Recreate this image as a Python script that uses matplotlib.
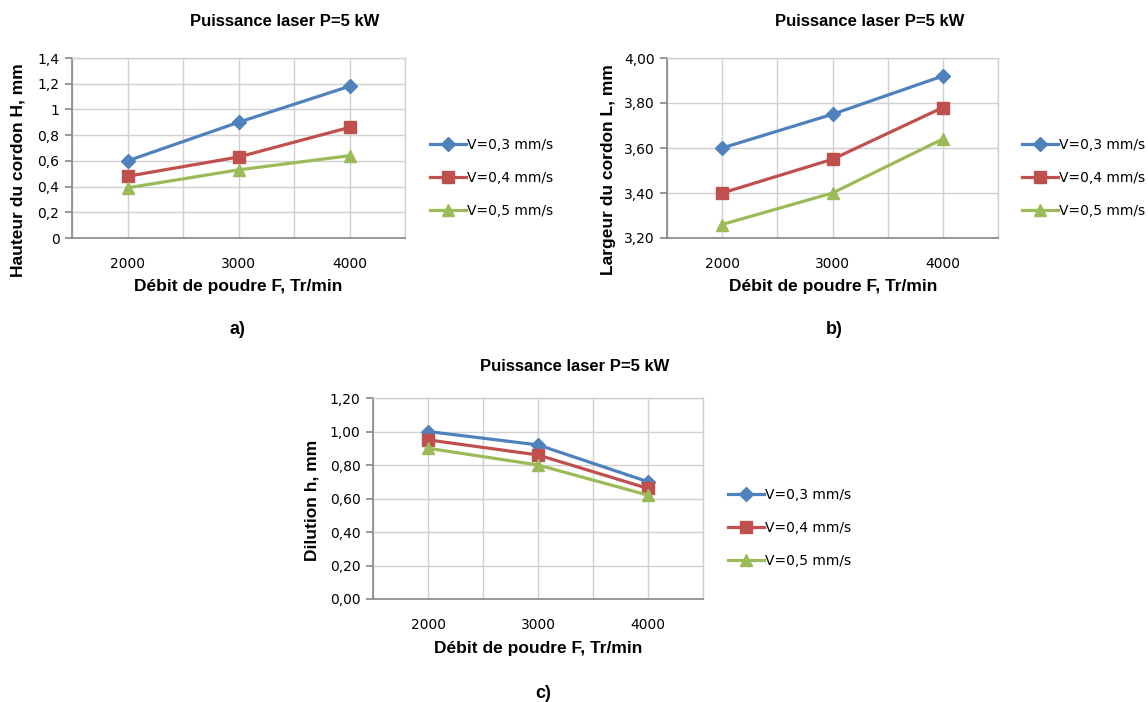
import matplotlib
matplotlib.use("Agg")
import matplotlib.pyplot as plt
from matplotlib.ticker import FixedLocator, FuncFormatter

# Data
debit = [2000, 3000, 4000]
series_labels = ["V=0,3 mm/s", "V=0,4 mm/s", "V=0,5 mm/s"]

hauteur_v03 = [0.60, 0.90, 1.18]
hauteur_v04 = [0.48, 0.63, 0.86]
hauteur_v05 = [0.39, 0.53, 0.64]

largeur_v03 = [3.60, 3.75, 3.92]
largeur_v04 = [3.40, 3.55, 3.78]
largeur_v05 = [3.26, 3.40, 3.64]

dilution_v03 = [1.00, 0.92, 0.70]
dilution_v04 = [0.95, 0.86, 0.66]
dilution_v05 = [0.90, 0.80, 0.62]

title_text = "Puissance laser P=5 kW"
xlabel_text = "Débit de poudre F, Tr/min"

W, H = 1148, 702
fig = plt.figure(figsize=(W / 100, H / 100), dpi=100)

colors = ["#4F81BD", "#C0504D", "#9BBB59"]
markers = ["D", "s", "^"]
msizes = [7, 9, 9]
grid_col = "#D0D0D0"
axis_col = "#868686"
text_col = "#000000"
bold_font = "Liberation Sans"


def fx(x):
    return x / W


def fy(y):
    return 1 - y / H


def comma_fmt(decimals):
    def f(v, pos):
        if decimals is None:
            s = ("%.1f" % v).rstrip("0").rstrip(".")
        else:
            s = "%.*f" % (decimals, v)
        return s.replace(".", ",")
    return f


def panel(box, series, yticks, decimals, ylabel, ylabel_pos, title_pos,
          xlabel_pos, letter, letter_pos, legend_pos):
    l, r, t, b = box
    ax = fig.add_axes([fx(l), fy(b), fx(r - l), (b - t) / H])
    lines = []
    for vals, c, m, ms, lab in zip(series, colors, markers, msizes, series_labels):
        ln, = ax.plot(debit, vals, color=c, lw=2.3, marker=m, markersize=ms,
                      markeredgecolor=c, label=lab, zorder=3)
        lines.append(ln)
    ax.set_xlim(1500, 4500)
    ax.set_ylim(yticks[0], yticks[-1])
    ax.xaxis.set_major_locator(FixedLocator(debit))
    ax.xaxis.set_minor_locator(FixedLocator([1500, 2500, 3500, 4500]))
    ax.yaxis.set_major_locator(FixedLocator(yticks))
    ax.yaxis.set_major_formatter(FuncFormatter(comma_fmt(decimals)))
    ax.grid(True, which="both", color=grid_col, lw=1.0, zorder=0)
    ax.set_axisbelow(True)
    for s in ["top", "right"]:
        ax.spines[s].set_color(grid_col)
        ax.spines[s].set_linewidth(1.0)
    for s in ["left", "bottom"]:
        ax.spines[s].set_color(axis_col)
        ax.spines[s].set_linewidth(1.2)
    ax.tick_params(axis="y", which="major", length=5, width=1.2, color=axis_col,
                   labelsize=10, pad=4, labelcolor=text_col)
    ax.tick_params(axis="x", which="both", length=0, labelsize=10, pad=14,
                   labelcolor=text_col)
    fig.text(fx(title_pos[0]), fy(title_pos[1]), title_text, ha="center",
             va="center", fontsize=12, fontweight="bold", family=bold_font)
    fig.text(fx(xlabel_pos[0]), fy(xlabel_pos[1]), xlabel_text, ha="center",
             va="center", fontsize=12.5, fontweight="bold", family=bold_font)
    fig.text(fx(ylabel_pos[0]), fy(ylabel_pos[1]), ylabel, ha="center",
             va="center", rotation=90, fontsize=12.5, fontweight="bold",
             family=bold_font)
    fig.text(fx(letter_pos[0]), fy(letter_pos[1]), letter, ha="center",
             va="center", fontsize=13, fontweight="bold", family=bold_font)
    fig.legend(handles=lines, loc="upper left",
               bbox_to_anchor=(fx(legend_pos[0]), fy(legend_pos[1])),
               frameon=False, fontsize=10, handlelength=2.6, handletextpad=0.05,
               labelspacing=1.38, borderpad=0, borderaxespad=0)
    return ax


panel((72, 405, 58, 238),
      [hauteur_v03, hauteur_v04, hauteur_v05],
      [0, 0.2, 0.4, 0.6, 0.8, 1.0, 1.2, 1.4], None,
      "Hauteur du cordon H, mm", (18, 170), (285, 22), (238, 287),
      "a)", (237, 330), (430, 138))

panel((667, 998, 58, 238),
      [largeur_v03, largeur_v04, largeur_v05],
      [3.2, 3.4, 3.6, 3.8, 4.0], 2,
      "Largeur du cordon L, mm", (608, 170), (870, 22), (833, 287),
      "b)", (834, 330), (1022, 138))

panel((373, 703, 398, 599),
      [dilution_v03, dilution_v04, dilution_v05],
      [0, 0.2, 0.4, 0.6, 0.8, 1.0, 1.2], 2,
      "Dilution h, mm", (312, 500), (575, 367), (538, 648),
      "c)", (543, 693), (728, 488))

fig.savefig("out.png", dpi=100)
